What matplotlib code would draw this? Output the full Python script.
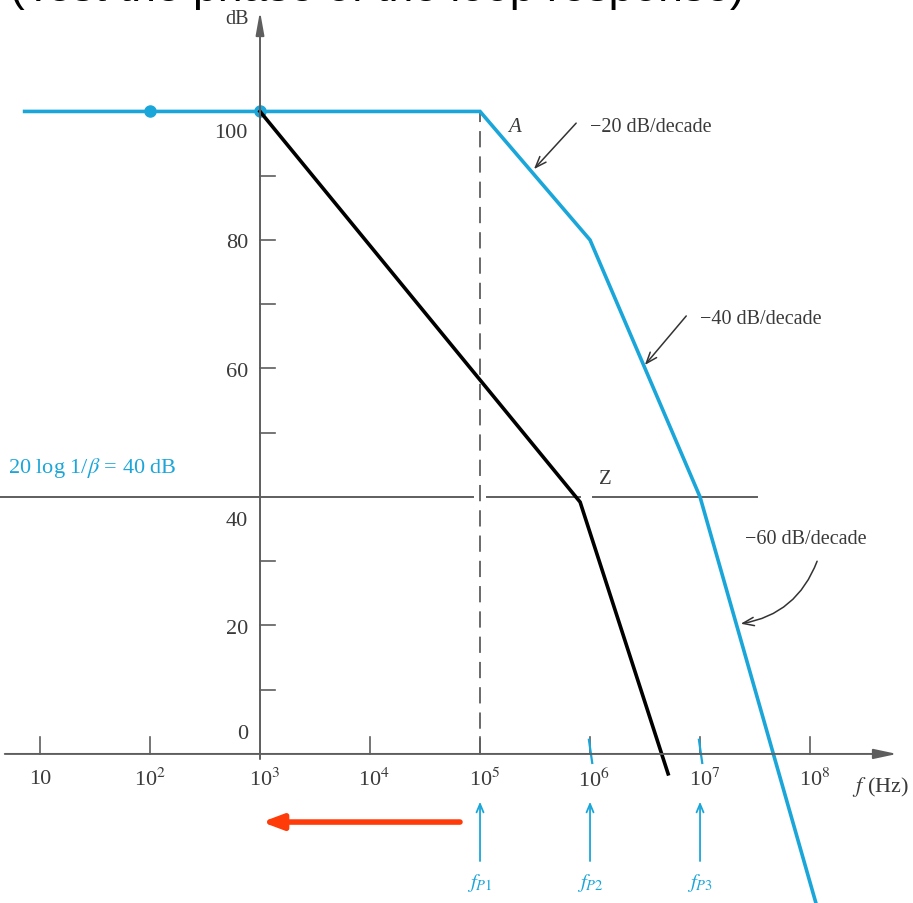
import matplotlib
matplotlib.use("Agg")
import matplotlib.pyplot as plt
import numpy as np

plt.rcParams['font.family'] = ['Liberation Serif', 'DejaVu Serif']
plt.rcParams['mathtext.fontset'] = 'stix'

# open-loop gain asymptotes (blue) and the compensated response (black)
gain_logf = [0.86, 5.0, 6.0, 7.0, 8.1]
gain_db = [100, 100, 80, 40, -26]
comp_logf = [3.0, 5.91, 6.71]
comp_db = [100, 39.2, -3.1]
dot_logf = [2.0, 3.0]
dot_db = [100, 100]

beta_db = 40
pole_logf = [5.0, 6.0, 7.0]
pole_names = ['$f_{P1}$', '$f_{P2}$', '$f_{P3}$']

xtick_logf = [1, 2, 3, 4, 5, 6, 7, 8]
xtick_labels = ['10', '10$^2$', '10$^3$', '10$^4$', '10$^5$', '10$^6$', '10$^7$', '10$^8$']
ytick_db = [10, 20, 30, 50, 60, 70, 80, 90]
ylabel_db = [100, 80, 60, 40, 20, 0]

blue = '#1ba6d9'
grey = '#5e5e5e'
txt = '#3a3a3a'

fig = plt.figure(figsize=(9.13, 9.04), dpi=100)
ax = fig.add_axes([0, 0, 1, 1])
ax.set_xscale('log')
ax.set_xlim(10 ** 0.6364, 10 ** 8.936)
ax.set_ylim(-23.2, 117.5)
ax.axis('off')

f = lambda e: 10.0 ** np.asarray(e)

# axes with arrow heads
ax.annotate('', xy=(f(8.79), 0), xytext=(f(0.68), 0),
            arrowprops=dict(arrowstyle='-|>,head_length=1.4,head_width=0.3',
                            color=grey, lw=1.4, shrinkA=0, shrinkB=0))
ax.annotate('', xy=(1e3, 115.6), xytext=(1e3, -0.8),
            arrowprops=dict(arrowstyle='-|>,head_length=1.4,head_width=0.25',
                            color=grey, lw=1.4, shrinkA=0, shrinkB=0))
ax.text(f(2.79), 114.4, 'dB', color=txt, fontsize=14.5, ha='center', va='center')

# decade ticks
for e, lab in zip(xtick_logf, xtick_labels):
    if e != 3:
        ax.plot([f(e), f(e)], [0, 2.7], color=grey, lw=1.2)
    ax.text(f(e + (0.04 if e >= 3 else 0)), -3.9, lab, color=txt, fontsize=16,
            ha='center', va='center')
ax.text(f(8.38), -5.0, '$f$ (Hz)', color=txt, fontsize=16, ha='left', va='center')

# dB ticks on the vertical axis
for d in ytick_db:
    ax.plot([1e3, f(3.14)], [d, d], color=grey, lw=1.2)
for d in ylabel_db:
    off = {100: -3.3, 40: -3.7, 0: 3.2}.get(d, -0.4)
    ax.text(f(2.89), d + off, str(d), color=txt, fontsize=16, ha='right', va='center')

# 20 log 1/beta line, broken where the other traces cross it
for a, b in [(0.6364, 4.94), (5.06, 5.91), (6.03, 7.52)]:
    ax.plot([f(a), f(b)], [beta_db, beta_db], color=grey, lw=1.4)
ax.text(f(0.709), beta_db + 4.7, r'20 log 1/$\beta$ = 40 dB', color=blue,
        fontsize=16, ha='left', va='center')

# dashed marker at the first pole
ax.plot([1e5, 1e5], [0, 100], color=grey, lw=1.3, dashes=(9, 5))

ax.plot(f(gain_logf), gain_db, color=blue, lw=2.6, solid_joinstyle='miter')
ax.plot(f(dot_logf), dot_db, 'o', color=blue, ms=8)
ax.plot(f(comp_logf), comp_db, color='black', lw=2.6, solid_joinstyle='miter')

# slope annotations
arrow_kw = dict(arrowstyle='->,head_length=0.8,head_width=0.3', color='#333333', lw=1.1)
ax.text(f(5.318), 97.7, 'A', fontstyle='italic', color=txt, fontsize=15, ha='center', va='center')
ax.annotate('', xy=(f(5.473), 90.7), xytext=(f(5.891), 98.5), arrowprops=arrow_kw)
ax.text(f(6.0), 97.7, '\u221220 dB/decade', color=txt, fontsize=14.5, ha='left', va='center')
ax.annotate('', xy=(f(6.482), 60.2), xytext=(f(6.891), 68.5), arrowprops=arrow_kw)
ax.text(f(7.0), 67.7, '\u221240 dB/decade', color=txt, fontsize=14.5, ha='left', va='center')
ax.annotate('', xy=(f(7.345), 20.2), xytext=(f(8.073), 30.4),
            arrowprops=dict(connectionstyle='arc3,rad=-0.3', **arrow_kw))
ax.text(f(7.409), 33.5, '\u221260 dB/decade', color=txt, fontsize=14.5, ha='left', va='center')
ax.text(f(6.136), 42.8, 'Z', color=txt, fontsize=15, ha='center', va='center')

# pole frequency markers
for e, name in zip(pole_logf, pole_names):
    ax.annotate('', xy=(f(e), -7.0), xytext=(f(e), -17.1),
                arrowprops=dict(arrowstyle='->,head_length=0.6,head_width=0.25',
                                color=blue, lw=1.3))
    ax.text(f(e), -19.9, name, color=blue, fontsize=15, ha='center', va='center')
for e in pole_logf[1:]:
    ax.plot([f(e - 0.01), f(e + 0.02)], [2.2, -1.4], color=blue, lw=1.6)

# red arrow pointing back toward 10^3
ax.annotate('', xy=(f(3.018), -10.6), xytext=(f(4.818), -10.6),
            arrowprops=dict(arrowstyle='-|>,head_length=1.2,head_width=0.45',
                            color='#ff3b0a', lw=4, shrinkA=0, shrinkB=0))

# heading runs off the top edge of the page
fig.text(10 / 913, 1 - 1 / 904, '(Test the phase of the loop response)',
         family='Liberation Sans', fontsize=32, color='black', ha='left', va='baseline')

fig.savefig('out.png', dpi=100)
